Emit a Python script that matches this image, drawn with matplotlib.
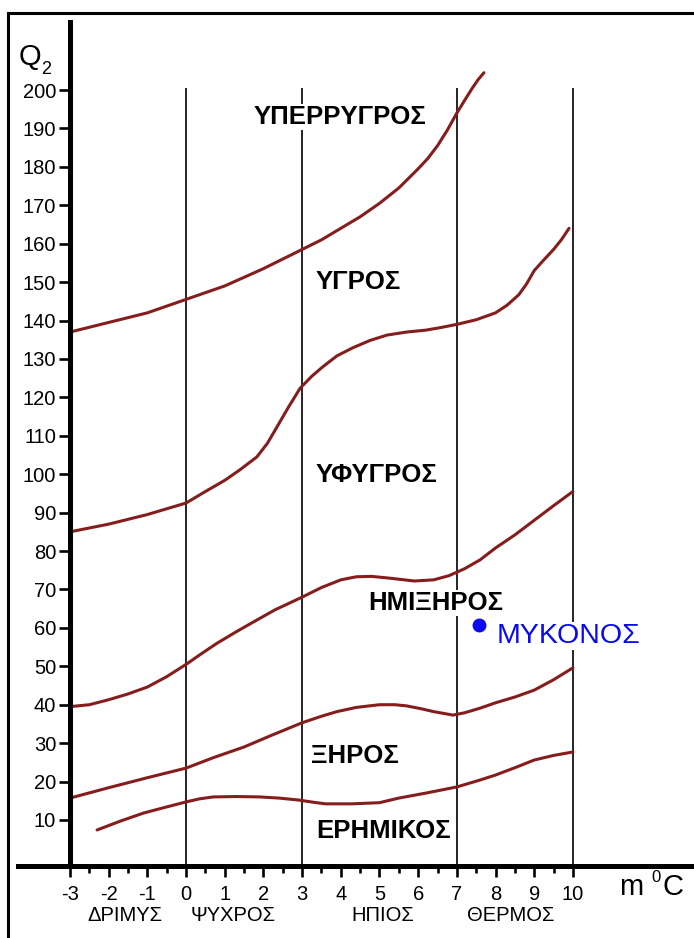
import matplotlib
matplotlib.use("Agg")
import matplotlib.pyplot as plt
from matplotlib.lines import Line2D

plt.rcParams['font.family'] = ['Liberation Sans', 'DejaVu Sans']
plt.rcParams['axes.unicode_minus'] = False

# Emberger climatogram: Q2 against mean minimum temperature of the coldest month
hyperhumid_x = [-3, -2, -1, 0, 1, 2, 3, 3.5, 4, 4.5, 5, 5.5, 6, 6.25, 6.5, 6.75, 7, 7.2, 7.4, 7.55, 7.7]
hyperhumid_y = [137, 139.5, 142, 145.5, 149, 153.5, 158.5, 161, 164, 167, 170.5, 174.5, 179.5, 182.2,
                185.5, 189.5, 194, 197.3, 200.5, 202.7, 204.5]

humid_x = [-3, -2, -1, 0, 0.5, 1, 1.4, 1.83, 2.1, 2.35, 2.65, 2.95, 3.25, 3.54, 3.9, 4.31,
           4.75, 5.19, 5.7, 6.2, 6.6, 7, 7.5, 8, 8.3, 8.6, 8.8, 9, 9.25, 9.5, 9.7, 9.9]
humid_y = [85, 87, 89.5, 92.5, 95.5, 98.4, 101.2, 104.5, 108, 112.3, 117.5, 122.4, 125.5, 128, 130.8, 132.9,
           134.8, 136.2, 137, 137.5, 138.2, 139, 140.2, 142, 144, 146.7, 149.5, 153, 155.8, 158.5, 161, 164]

subhumid_x = [-3, -2.5, -2, -1.5, -1, -0.5, 0, 0.4, 0.8, 1.3, 1.7, 2.3, 3, 3.5, 4, 4.4, 4.8, 5.3,
              5.9, 6.4, 6.8, 7.2, 7.6, 8, 8.5, 9, 9.5, 10]
subhumid_y = [39.5, 40, 41.3, 42.8, 44.6, 47.3, 50.5, 53.3, 56, 59, 61.3, 64.7, 68, 70.5, 72.5, 73.3,
              73.4, 72.9, 72.2, 72.5, 73.6, 75.4, 77.7, 80.8, 84.2, 88, 91.8, 95.5]

semiarid_x = [-3, -2, -1.5, -1, 0, 0.7, 1.5, 2.2, 3, 3.5, 3.9, 4.4, 5, 5.4, 5.7, 6.1, 6.4, 6.9,
              7.2, 7.6, 8, 8.5, 9, 9.5, 10]
semiarid_y = [15.7, 18.4, 19.7, 21, 23.5, 26.2, 29, 32, 35.3, 37, 38.2, 39.3, 40, 40, 39.7, 38.9,
              38.2, 37.3, 37.9, 39.1, 40.5, 42, 43.8, 46.5, 49.6]

arid_x = [-2.3, -1.7, -1.1, -0.5, 0, 0.35, 0.7, 1.3, 1.9, 2.4, 2.9, 3.3, 3.6, 4.3, 5, 5.5, 6.2,
          7, 7.6, 8, 8.5, 9, 9.5, 10]
arid_y = [7.4, 9.7, 11.8, 13.4, 14.7, 15.5, 16, 16.1, 16, 15.7, 15.2, 14.6, 14.2, 14.2, 14.5, 15.7,
          17, 18.6, 20.4, 21.7, 23.6, 25.6, 26.8, 27.7]

zone_names = ["ΥΠΕΡΡΥΓΡΟΣ", "ΥΓΡΟΣ", "ΥΦΥΓΡΟΣ", "ΗΜΙΞΗΡΟΣ", "ΞΗΡΟΣ", "ΕΡΗΜΙΚΟΣ"]
zone_x = [3.98, 4.44, 4.91, 6.46, 4.36, 5.11]
zone_y = [193, 150, 99.8, 66.5, 26.7, 7.1]

winter_names = ["ΔΡΙΜΥΣ", "ΨΥΧΡΟΣ", "ΗΠΙΟΣ", "ΘΕΡΜΟΣ"]
winter_x = [-1.58, 1.21, 5.09, 8.4]
winter_bounds = [0, 3, 7, 10]

station_name = "ΜΥΚΟΝΟΣ"
station_m = 7.57
station_q2 = 60.8

W, H = 694, 938
fig = plt.figure(figsize=(W / 100, H / 100), dpi=100)
fig.patch.set_facecolor('white')

# axes placed so the spines sit where the drawn axes are
ax = fig.add_axes([70 / W, (H - 866) / H, (W - 70) / W, (866 - 22) / H])
ax.set_xlim(-3, 13.13)
ax.set_ylim(-1.98, 217.7)
ax.patch.set_alpha(0)

for s in ['top', 'right']:
    ax.spines[s].set_visible(False)
for s in ['left', 'bottom']:
    ax.spines[s].set_linewidth(3.6)
    ax.spines[s].set_color('black')

ax.set_yticks(range(10, 201, 10))
ax.set_xticks(range(-3, 11))
ax.set_xticks([v + 0.5 for v in range(-3, 10)], minor=True)
ax.tick_params(axis='y', direction='out', length=8, width=1.9, pad=2, labelsize=14.5)
ax.tick_params(axis='x', which='major', direction='out', length=8, width=1.9, pad=6, labelsize=14.5)
ax.tick_params(axis='x', which='minor', direction='out', length=5, width=1.9)

# winter type boundaries
ax.vlines(winter_bounds, -1.98, 200.5, colors='black', linewidth=1.2, zorder=1)

curve_color = '#861d1d'
for xs, ys in [(hyperhumid_x, hyperhumid_y), (humid_x, humid_y), (subhumid_x, subhumid_y),
               (semiarid_x, semiarid_y), (arid_x, arid_y)]:
    ax.plot(xs, ys, color=curve_color, linewidth=2.2, solid_joinstyle='round',
            solid_capstyle='round', zorder=2)

for name, x, y in zip(zone_names, zone_x, zone_y):
    ax.text(x, y, name, ha='center', va='center', fontsize=18.5, fontweight='bold',
            bbox=dict(facecolor='white', edgecolor='none', pad=1), zorder=3)

for name, x in zip(winter_names, winter_x):
    ax.text(x, -14.8, name, ha='center', va='center', fontsize=14.5, clip_on=False)

ax.plot([station_m], [station_q2], 'o', color='#0a0af0', markersize=9, zorder=4)
ax.text(station_m + 0.46, station_q2 - 2.9, station_name, ha='left', va='center',
        fontsize=20.5, color='#0a0af0',
        bbox=dict(facecolor='white', edgecolor='none', pad=1), zorder=3)

# axis titles
fig.text(30 / W, 1 - 57 / H, "Q", ha='center', va='center', fontsize=21)
fig.text(46 / W, 1 - 70 / H, "2", ha='center', va='center', fontsize=13)
fig.text(631 / W, 1 - 895 / H, "m", ha='center', va='baseline', fontsize=21)
fig.text(656 / W, 1 - 882 / H, "0", ha='center', va='baseline', fontsize=12)
fig.text(673 / W, 1 - 895 / H, "C", ha='center', va='baseline', fontsize=21)

# x axis runs a bit past the Q2 axis, plus the frame
fig.add_artist(Line2D([18 / W, 70 / W], [1 - 866 / H, 1 - 866 / H], color='black', linewidth=3.6))
fig.add_artist(Line2D([8 / W, 1], [1 - 13 / H, 1 - 13 / H], color='black', linewidth=2.2))
fig.add_artist(Line2D([8 / W, 8 / W], [0, 1 - 13 / H], color='black', linewidth=2.2))

fig.savefig("out.png", dpi=100, facecolor='white')
